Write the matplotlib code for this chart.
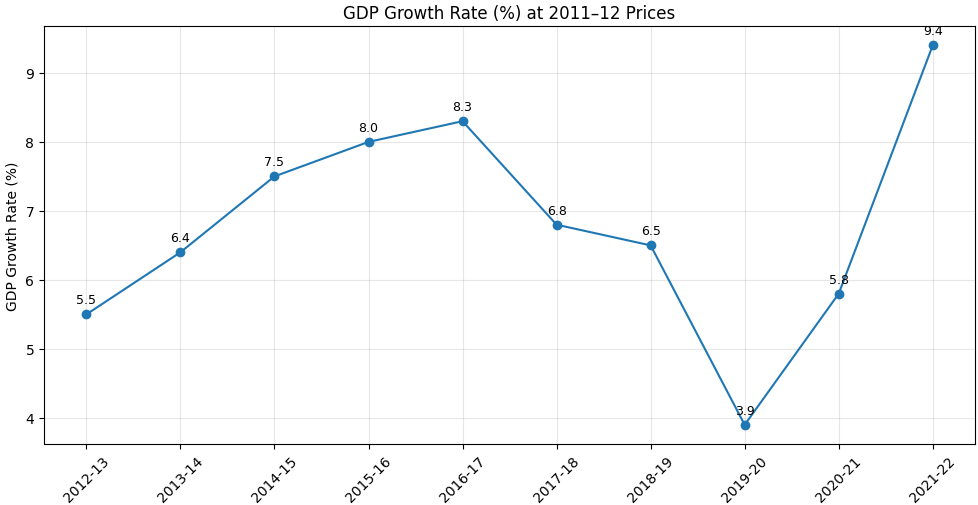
import matplotlib
matplotlib.use("Agg")
import matplotlib.pyplot as plt

years = ["2012-13", "2013-14", "2014-15", "2015-16", "2016-17",
         "2017-18", "2018-19", "2019-20", "2020-21", "2021-22"]
growth = [5.5, 6.4, 7.5, 8.0, 8.3, 6.8, 6.5, 3.9, 5.8, 9.4]

fig, ax = plt.subplots(figsize=(9.79, 5.06), dpi=100)
ax.plot(years, growth, marker="o", color="#1f77b4")

# подписи значений над точками
for x, y in zip(years, growth):
    ax.annotate(f"{y:.1f}", (x, y), textcoords="offset points", xytext=(0, 8),
                ha="center", fontsize=9)

ax.set_title("GDP Growth Rate (%) at 2011–12 Prices")
ax.set_ylabel("GDP Growth Rate (%)")
ax.grid(True, alpha=0.3)
plt.xticks(rotation=45)
fig.subplots_adjust(left=0.045, right=0.996, top=0.946, bottom=0.121)
fig.savefig("out.png", dpi=100)
